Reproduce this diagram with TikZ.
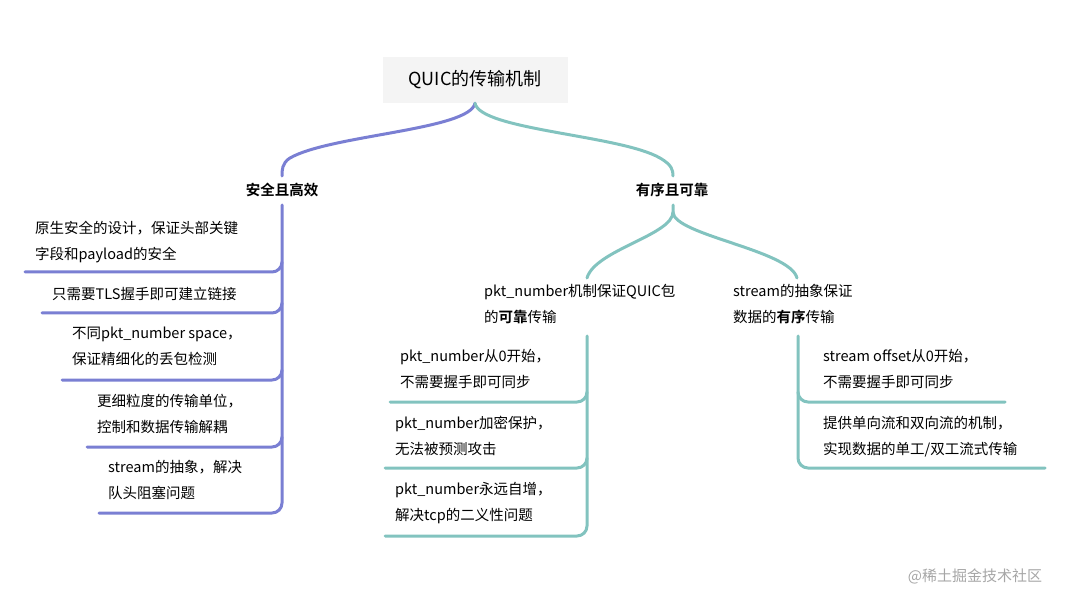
\documentclass[tikz,border=0pt]{standalone}
\usepackage{fontspec}
\setmainfont{Noto Sans CJK SC}[BoldFont={Noto Sans CJK SC Bold}]
\definecolor{pu}{HTML}{7A7FD3}
\definecolor{te}{HTML}{82C3BF}
\definecolor{bx}{HTML}{F4F4F4}
\begin{document}
\begin{tikzpicture}[x=1pt,y=-1pt,
  pl/.style={draw=pu,line width=3pt,line cap=round},
  tl/.style={draw=te,line width=3pt,line cap=round},
  t/.style={anchor=north west,inner sep=0pt,align=left,font=\fontsize{14.5}{26}\selectfont},
  h/.style={inner sep=0pt,font=\fontsize{14.5}{18}\selectfont\bfseries}]
\useasboundingbox (0,0) rectangle (1072,604);
\node[fill=bx,minimum width=185pt,minimum height=46pt,font=\fontsize{18}{20}\selectfont] (root) at (475,80) {QUIC的传输机制};
\node[h] (L) at (282,190) {安全且高效};
\node[h] (R) at (672,190) {有序且可靠};
\draw[pl] (root.south) .. controls (470,130) and (330,135) .. (290,158) .. controls (282,163) and (282,170) .. (282,176);
\draw[tl] (root.south) .. controls (480,130) and (620,135) .. (660,158) .. controls (672,165) and (673,170) .. (673,176);
% left items
\node[t] (l1) at (35,221) {原生安全的设计，保证头部关键\\字段和payload的安全};
\node[t] (l2) at (52,287) {只需要TLS握手即可建立链接};
\node[t] (l3) at (72,327) {不同pkt\_number space，\\保证精细化的丢包检测};
\node[t] (l4) at (97,394) {更细粒度的传输单位，\\控制和数据传输解耦};
\node[t] (l5) at (108,460) {stream的抽象，解决\\队头阻塞问题};
\draw[pl] (282,205) -- (282,503) arc (0:90:10) -- (99,513);
\foreach \y/\x in {272/25,313/42,380/62,447/87}
  \draw[pl] (282,\y-10) arc (0:90:10) -- (\x,\y);
% right
\draw[tl] (673,205) -- (673,212) .. controls (673,235) and (595,250) .. (587,278);
\draw[tl] (673,212) .. controls (673,235) and (790,250) .. (797,278);
\node[t,font=\fontsize{14.5}{26}\selectfont\mdseries] (m) at (484,284) {pkt\_number机制保证QUIC包\\的\textbf{可靠}传输};
\node[t] (s) at (733,284) {stream的抽象保证\\数据的\textbf{有序}传输};
\node[t] (m1) at (400,349) {pkt\_number从0开始，\\不需要握手即可同步};
\node[t] (m2) at (395,416) {pkt\_number加密保护，\\无法被预测攻击};
\node[t] (m3) at (395,482) {pkt\_number永远自增，\\解决tcp的二义性问题};
\draw[tl] (587,336) -- (587,526) arc (0:90:10) -- (385,536);
\foreach \y/\x in {402/390,468/385}
  \draw[tl] (587,\y-10) arc (0:90:10) -- (\x,\y);
\node[t] (s1) at (823,349) {stream offset从0开始，\\不需要握手即可同步};
\node[t] (s2) at (823,416) {提供单向流和双向流的机制，\\实现数据的单工/双工流式传输};
\draw[tl] (798,336) -- (798,458) arc (180:90:10) -- (1045,468);
\draw[tl] (798,392) arc (180:90:10) -- (1005,402);
\node[text=black!35,inner sep=0pt,font=\fontsize{15}{18}\selectfont] (wm) at (975,576) {@稀土掘金技术社区};
\end{tikzpicture}
\end{document}
